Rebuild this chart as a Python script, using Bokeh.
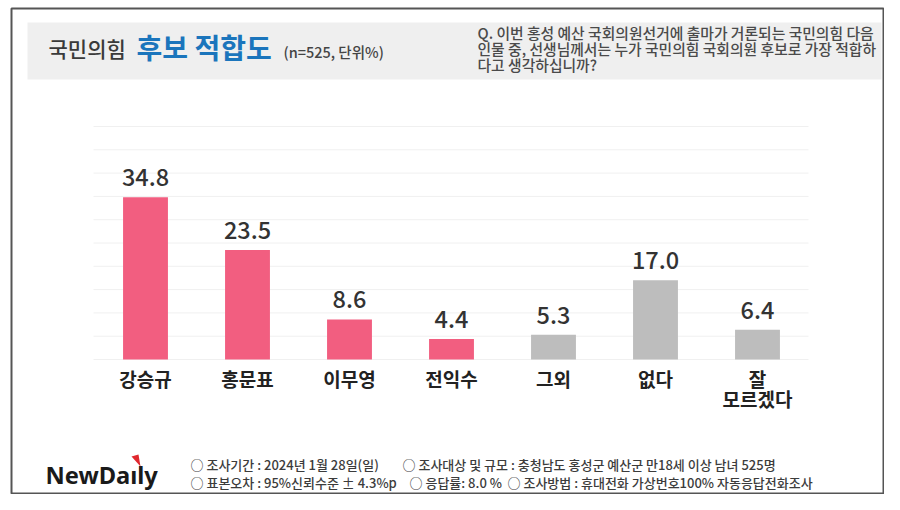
from bokeh.plotting import figure
from bokeh.models import Range1d, ColumnDataSource
from bokeh.transform import factor_cmap
from bokeh.embed import file_html
from bokeh.resources import INLINE
from bokeh.core.properties import value

# ---------------- data ----------------
categories = ["강승규", "홍문표", "이무영", "전익수", "그외", "없다", "잘\n모르겠다"]
values = [34.8, 23.5, 8.6, 4.4, 5.3, 17.0, 6.4]
groups = ["후보", "후보", "후보", "후보", "기타", "기타", "기타"]
value_labels = ["34.8", "23.5", "8.6", "4.4", "5.3", "17.0", "6.4"]
grid_ticks = [0, 5, 10, 15, 20, 25, 30, 35, 40, 45, 50]

title_main = "국민의힘"
title_accent = "후보 적합도"
title_note = "(n=525, 단위%)"
question_lines = [
    "Q. 이번 홍성 예산 국회의원선거에 출마가 거론되는 국민의힘 다음",
    "인물 중, 선생님께서는 누가 국민의힘 국회의원 후보로 가장 적합하",
    "다고 생각하십니까?",
]
footer_row1 = ["○ 조사기간 : 2024년 1월 28일(일)",
               "○ 조사대상 및 규모 : 충청남도 홍성군 예산군  만18세 이상 남녀  525명"]
footer_row2 = ["○ 표본오차 : 95%신뢰수준 ± 4.3%p",
               "○ 응답률: 8.0 %",
               "○ 조사방법 : 휴대전화 가상번호100% 자동응답전화조사"]
logo_text = "NewDaıly"

# ---------------- layout ----------------
W, H = 884, 494
BASE = 359      # canvas y of the zero line
SCALE = 4.66    # px per percentage point
STEP = 102      # px per category
X0 = 145        # canvas x of first category centre
FONT = value("Noto Sans CJK KR")
FONT_M = value("Noto Sans CJK KR Medium")

xs = list(range(len(categories)))
cat_line1 = [c.split("\n")[0] for c in categories]
cat_line2 = [c.split("\n")[1] if "\n" in c else "" for c in categories]
src = ColumnDataSource(dict(x=xs, top=values, grp=groups, lbl=value_labels,
                            l1=cat_line1, l2=cat_line2))

p = figure(width=W, height=H, output_backend="svg", toolbar_location=None, title=None,
           x_range=Range1d(-X0 / STEP, (W - X0) / STEP),
           y_range=Range1d(-(H - BASE) / SCALE, BASE / SCALE),
           x_axis_type=None, y_axis_type=None, min_border=0)
p.outline_line_color = None
p.background_fill_color = "white"
p.border_fill_color = "white"
p.xgrid.visible = False
p.ygrid.visible = False
p.extra_x_ranges = {"px": Range1d(0, W)}
p.extra_y_ranges = {"px": Range1d(H, 0)}

# frame and title band
p.quad(left=[11], right=[883], top=[8], bottom=[493], fill_color=None,
       line_color="#555555", line_width=2, x_range_name="px", y_range_name="px")
p.quad(left=[27], right=[881], top=[22], bottom=[79], fill_color="#EFEFEF",
       line_color=None, x_range_name="px", y_range_name="px")

# gridlines
p.segment(x0=[93] * len(grid_ticks), x1=[808] * len(grid_ticks), y0=grid_ticks, y1=grid_ticks,
          line_color="#F0F0F0", line_width=1, x_range_name="px")

# bars
p.vbar(x="x", top="top", bottom=0, width=0.44, source=src, line_color=None,
       fill_color=factor_cmap("grp", ["#F25E80", "#BDBDBD"], ["후보", "기타"]))

# value labels
p.text(x="x", y="top", text="lbl", source=src, y_offset=-20, text_align="center",
       text_baseline="middle", text_font=FONT_M, text_font_size="23.5px", text_color="#333333")

# category labels (two lines)
for col, off in (("l1", 19), ("l2", 39)):
    p.text(x="x", y=0, text=col, source=src, y_offset=off, text_align="center",
           text_baseline="middle", text_font=FONT, text_font_size="19px", text_font_style="bold",
           text_color="#222222")

# title
p.text(x=[48], y=[47], text=[title_main], text_font=FONT_M, text_font_size="21px",
       text_color="#3A3A3A", text_baseline="middle", x_range_name="px", y_range_name="px")
p.text(x=[136], y=[46], text=[title_accent], text_font=FONT, text_font_size="28px",
       text_font_style="bold", text_color="#1B75BC", text_baseline="middle",
       x_range_name="px", y_range_name="px")
p.text(x=[283], y=[51], text=[title_note], text_font=FONT_M, text_font_size="14.5px",
       text_color="#444444", text_baseline="middle", x_range_name="px", y_range_name="px")

# question
p.text(x=[477] * 3, y=[32, 48, 64], text=question_lines, text_font=FONT_M, text_font_size="14.8px",
       text_color="#4A4A4A", text_baseline="middle", x_range_name="px", y_range_name="px")

# footer
p.text(x=[190, 402], y=[464, 464], text=footer_row1, text_font=FONT_M, text_font_size="13px",
       text_color="#3C3C3C", text_baseline="middle", x_range_name="px", y_range_name="px")
p.text(x=[190, 409, 507], y=[482, 482, 482], text=footer_row2, text_font=FONT_M,
       text_font_size="13px", text_color="#3C3C3C", text_baseline="middle",
       x_range_name="px", y_range_name="px")

# logo
p.text(x=[45], y=[474], text=[logo_text], text_font=value("Noto Sans"), text_font_size="23.7px",
       text_font_style="bold", text_color="#1A1A1A", text_baseline="middle",
       x_range_name="px", y_range_name="px")
p.patch(x=[131, 138, 140], y=[456, 454, 466], fill_color="#E0282E", line_color=None,
        x_range_name="px", y_range_name="px")

open("out.html", "w").write(file_html(p, INLINE))
